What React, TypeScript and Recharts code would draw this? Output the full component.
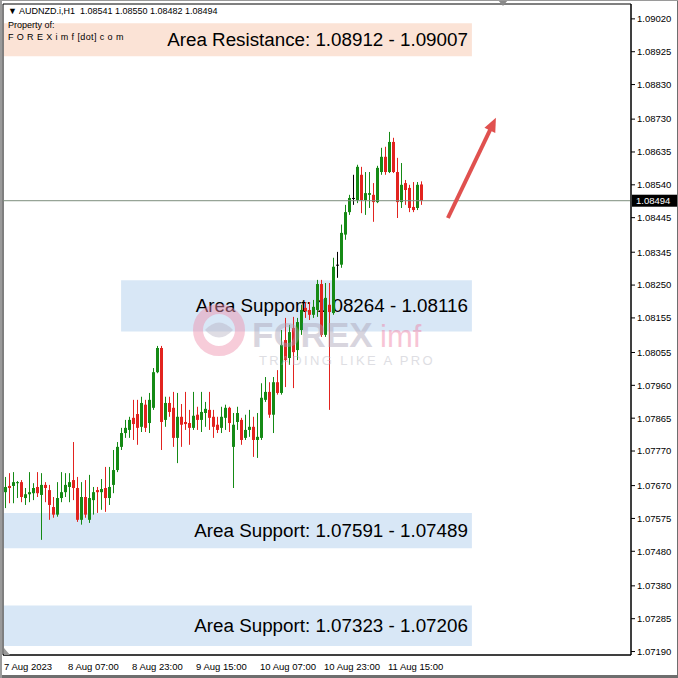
import React from 'react';
import { ComposedChart, Bar, XAxis, YAxis, ReferenceArea, ReferenceLine } from 'recharts';

// ---- Candle data (AUDNZD.i, H1, from 7 Aug 2023 15:00) ----
const opens = [
  1.07651, 1.07669, 1.07669, 1.07677, 1.07680, 1.07634, 1.07645, 1.07648, 1.07666, 1.07643,
  1.07672, 1.07657, 1.07608, 1.07586, 1.07634, 1.07651, 1.07666, 1.07686, 1.07663, 1.07571,
  1.07637, 1.07571, 1.07628, 1.07657, 1.07651, 1.07663, 1.07634, 1.07672, 1.07715, 1.07782,
  1.07822, 1.07831, 1.07866, 1.07877, 1.07840, 1.07904, 1.07851, 1.07895, 1.07998, 1.08068,
  1.07860, 1.07909, 1.07895, 1.07808, 1.07869, 1.07854, 1.07851, 1.07837, 1.07875, 1.07860,
  1.07880, 1.07889, 1.07869, 1.07846, 1.07837, 1.07866, 1.07895, 1.07782, 1.07854, 1.07860,
  1.07808, 1.07831, 1.07840, 1.07802, 1.07808, 1.07918, 1.07941, 1.07875, 1.07969, 1.07938,
  1.08091, 1.08039, 1.08126, 1.08062, 1.08120, 1.08184, 1.08178, 1.08164, 1.08178, 1.08253,
  1.08106, 1.08193, 1.08169, 1.08309, 1.08309, 1.08396, 1.08461, 1.08502, 1.08496, 1.08569,
  1.08496, 1.08511, 1.08511, 1.08490, 1.08577, 1.08621, 1.08577, 1.08664, 1.08577, 1.08490,
  1.08545, 1.08531, 1.08476, 1.08473, 1.08541,
];
const highs = [
  1.07695, 1.07706, 1.07709, 1.07683, 1.07686, 1.07663, 1.07709, 1.07677, 1.07709, 1.07706,
  1.07680, 1.07672, 1.07637, 1.07680, 1.07709, 1.07706, 1.07706, 1.07796, 1.07695, 1.07680,
  1.07686, 1.07701, 1.07666, 1.07666, 1.07689, 1.07724, 1.07724, 1.07773, 1.07796, 1.07837,
  1.07860, 1.07869, 1.07918, 1.07918, 1.07927, 1.07918, 1.07938, 1.08010, 1.08074, 1.08074,
  1.07927, 1.07927, 1.07941, 1.07938, 1.07906, 1.07941, 1.07889, 1.07941, 1.07898, 1.07941,
  1.07912, 1.07941, 1.07889, 1.07869, 1.07898, 1.07904, 1.07898, 1.07880, 1.07898, 1.07866,
  1.07875, 1.07889, 1.07869, 1.07880, 1.07966, 1.07984, 1.07969, 1.07984, 1.08004, 1.08120,
  1.08155, 1.08135, 1.08158, 1.08155, 1.08193, 1.08201, 1.08201, 1.08207, 1.08265, 1.08265,
  1.08256, 1.08256, 1.08329, 1.08346, 1.08425, 1.08482, 1.08511, 1.08569, 1.08598, 1.08592,
  1.08577, 1.08577, 1.08545, 1.08595, 1.08647, 1.08650, 1.08693, 1.08676, 1.08618, 1.08603,
  1.08554, 1.08540, 1.08548, 1.08548, 1.08550,
];
const lows = [
  1.07605, 1.07619, 1.07619, 1.07634, 1.07622, 1.07614, 1.07622, 1.07628, 1.07637, 1.07513,
  1.07622, 1.07571, 1.07577, 1.07580, 1.07622, 1.07637, 1.07622, 1.07628, 1.07565, 1.07557,
  1.07577, 1.07562, 1.07586, 1.07591, 1.07600, 1.07594, 1.07614, 1.07648, 1.07709, 1.07773,
  1.07808, 1.07808, 1.07802, 1.07788, 1.07825, 1.07825, 1.07822, 1.07889, 1.07995, 1.07773,
  1.07840, 1.07869, 1.07782, 1.07735, 1.07782, 1.07831, 1.07788, 1.07831, 1.07831, 1.07825,
  1.07840, 1.07831, 1.07808, 1.07822, 1.07822, 1.07831, 1.07825, 1.07663, 1.07831, 1.07788,
  1.07802, 1.07811, 1.07753, 1.07750, 1.07802, 1.07912, 1.07866, 1.07822, 1.07933, 1.07933,
  1.07955, 1.08019, 1.07952, 1.08033, 1.08106, 1.08155, 1.08149, 1.08155, 1.08158, 1.08100,
  1.08100, 1.07889, 1.08164, 1.08271, 1.08300, 1.08381, 1.08453, 1.08482, 1.08487, 1.08458,
  1.08453, 1.08473, 1.08433, 1.08487, 1.08569, 1.08569, 1.08574, 1.08574, 1.08444, 1.08473,
  1.08482, 1.08461, 1.08461, 1.08467, 1.08482,
];
const closes = [
  1.07666, 1.07663, 1.07680, 1.07680, 1.07637, 1.07645, 1.07651, 1.07663, 1.07648, 1.07672,
  1.07663, 1.07614, 1.07586, 1.07634, 1.07651, 1.07672, 1.07680, 1.07663, 1.07571, 1.07637,
  1.07586, 1.07634, 1.07651, 1.07651, 1.07660, 1.07634, 1.07666, 1.07715, 1.07782, 1.07822,
  1.07837, 1.07860, 1.07848, 1.07837, 1.07909, 1.07837, 1.07918, 1.07998, 1.08068, 1.07854,
  1.07909, 1.07883, 1.07808, 1.07869, 1.07846, 1.07848, 1.07837, 1.07872, 1.07860, 1.07883,
  1.07892, 1.07866, 1.07840, 1.07831, 1.07869, 1.07895, 1.07851, 1.07846, 1.07880, 1.07802,
  1.07831, 1.07840, 1.07802, 1.07811, 1.07924, 1.07941, 1.07875, 1.07969, 1.07938, 1.08077,
  1.08033, 1.08114, 1.08056, 1.08143, 1.08178, 1.08175, 1.08164, 1.08187, 1.08253, 1.08106,
  1.08213, 1.08172, 1.08303, 1.08309, 1.08401, 1.08461, 1.08502, 1.08502, 1.08592, 1.08496,
  1.08516, 1.08516, 1.08490, 1.08589, 1.08621, 1.08577, 1.08664, 1.08577, 1.08490, 1.08540,
  1.08525, 1.08473, 1.08467, 1.08540, 1.08494,
];

// ---- Axes ----
const xTickIndex = [0, 16, 32, 48, 64, 80, 96];
const xTickLabels = ['7 Aug 2023', '8 Aug 07:00', '8 Aug 23:00', '9 Aug 15:00', '10 Aug 07:00', '10 Aug 23:00', '11 Aug 15:00'];
const yTicks = [
  1.0902, 1.08925, 1.0883, 1.0873, 1.08635, 1.0854, 1.08445, 1.08345, 1.0825, 1.08155,
  1.08055, 1.0796, 1.07865, 1.0777, 1.0767, 1.07575, 1.0748, 1.0738, 1.07285, 1.0719,
];
const yDomain = [1.0718, 1.09063];
const xDomain = [-0.625, 156.375];

// ---- Zones ----
const zoneLow = [1.08912, 1.08116, 1.07489, 1.07206];
const zoneHigh = [1.09007, 1.08264, 1.07591, 1.07323];
const zoneStart = [-0.4, 28.9, -0.4, -0.4];
const zoneEnd = [116.6, 116.6, 116.6, 116.6];
const zoneLabels = [
  'Area Resistance: 1.08912 - 1.09007',
  'Area Support: 1.08264 - 1.08116',
  'Area Support: 1.07591 - 1.07489',
  'Area Support: 1.07323 - 1.07206',
];
const zoneColors = ['#fbe3d6', '#d8e7f6', '#d8e7f6', '#d8e7f6'];

const lastPrice = 1.08494;
const arrowFrom = { x: 110.6, y: 1.08444 };
const arrowTo = { x: 122.6, y: 1.08734 };

const GREEN = '#158a15';
const RED = '#e2231f';
const FONT = '"Liberation Sans", Arial, sans-serif';

const candles = opens.map((o, i) => ({
  i,
  open: o,
  high: highs[i],
  low: lows[i],
  close: closes[i],
  range: [lows[i], highs[i]],
}));

const Candle = (props: any) => {
  const { x, y, width, height, payload } = props;
  if (!payload || x == null) return null;
  const { open, close, high, low } = payload;
  const top = Math.min(y, y + height);
  const h = Math.abs(height);
  const cx = Math.round(x + width / 2) + 0.5;
  const py = (v: number) => (high === low ? top : top + ((high - v) / (high - low)) * h);
  const yO = py(open);
  const yC = py(close);
  const color = close > open ? GREEN : close < open ? RED : '#000';
  const bt = Math.min(yO, yC);
  const bh = Math.max(1, Math.abs(yC - yO));
  return (
    <g>
      <line x1={cx} x2={cx} y1={top} y2={top + h} stroke={color} strokeWidth={1} />
      <rect x={cx - 1.5} y={bt} width={3} height={bh} fill={color} />
    </g>
  );
};

const XTick = (props: any) => {
  const { x, y, payload } = props;
  const idx = xTickIndex.indexOf(payload.value);
  return (
    <text x={x - 1.5} y={y + 13} textAnchor="start" fontSize={9.5} fontFamily={FONT} fill="#000">
      {xTickLabels[idx]}
    </text>
  );
};

const makeZoneLabel = (text: string) => (props: any) => {
  const vb = props.viewBox || {};
  return (
    <text
      x={vb.x + vb.width - 4}
      y={vb.y + vb.height / 2}
      textAnchor="end"
      dominantBaseline="central"
      fontSize={18.8}
      fontFamily={FONT}
      fill="#000"
    >
      {text}
    </text>
  );
};

const PriceLabel = (props: any) => {
  const vb = props.viewBox || {};
  const x = vb.x + vb.width + 1;
  const y = vb.y;
  return (
    <g>
      <rect x={x} y={y - 6} width={45} height={12} fill="#000" />
      <text x={x + 4} y={y} dominantBaseline="central" fontSize={9.5} fontFamily={FONT} fill="#fff">
        {lastPrice.toFixed(5)}
      </text>
    </g>
  );
};

const ArrowShape = (props: any) => {
  const { x1, y1, x2, y2 } = props;
  if ([x1, y1, x2, y2].some((v) => v == null || isNaN(v))) return null;
  const dx = x2 - x1;
  const dy = y2 - y1;
  const len = Math.sqrt(dx * dx + dy * dy);
  const ux = dx / len;
  const uy = dy / len;
  const headLen = 14;
  const headW = 6;
  const bx = x2 - ux * headLen;
  const by = y2 - uy * headLen;
  const px = -uy;
  const py = ux;
  return (
    <g>
      <line x1={x1} y1={y1} x2={bx + ux * 2} y2={by + uy * 2} stroke="#e0514f" strokeWidth={4} />
      <polygon
        points={`${x2},${y2} ${bx + px * headW},${by + py * headW} ${bx - px * headW},${by - py * headW}`}
        fill="#e0514f"
      />
    </g>
  );
};

export default function App() {
  return (
    <div style={{ position: 'absolute', left: 0, top: 0, width: 678, height: 678, background: '#fff', overflow: 'hidden' }}>
      <ComposedChart
        width={678}
        height={678}
        data={candles}
        margin={{ top: 4, right: 0, bottom: 0, left: 3 }}
      >
        <XAxis
          type="number"
          dataKey="i"
          domain={xDomain}
          allowDataOverflow
          ticks={xTickIndex}
          tick={<XTick />}
          tickLine={false}
          tickSize={0}
          height={23}
          axisLine={{ stroke: '#000' }}
        />
        <YAxis
          type="number"
          orientation="right"
          domain={yDomain}
          allowDataOverflow
          ticks={yTicks}
          interval={0}
          width={47}
          tickSize={4}
          tickLine={{ stroke: '#000' }}
          axisLine={{ stroke: '#000' }}
          tickFormatter={(v: number) => v.toFixed(5)}
          tick={{ fontSize: 9.5, fontFamily: FONT, fill: '#000' }}
        />
        {zoneLabels.map((t, k) => (
          <ReferenceArea
            key={'z' + k}
            x1={zoneStart[k]}
            x2={zoneEnd[k]}
            y1={zoneLow[k]}
            y2={zoneHigh[k]}
            fill={zoneColors[k]}
            fillOpacity={1}
            stroke="none"
            ifOverflow="visible"
          />
        ))}
        <ReferenceLine y={lastPrice} stroke="#7d8d7d" strokeWidth={1} label={PriceLabel} />
        <Bar dataKey="range" barSize={3} shape={Candle} isAnimationActive={false} />
        {zoneLabels.map((t, k) => (
          <ReferenceArea
            key={'l' + k}
            x1={zoneStart[k]}
            x2={zoneEnd[k]}
            y1={zoneLow[k]}
            y2={zoneHigh[k]}
            fill="none"
            stroke="none"
            ifOverflow="visible"
            label={makeZoneLabel(t)}
          />
        ))}
        <ReferenceLine segment={[arrowFrom, arrowTo]} shape={ArrowShape} ifOverflow="visible" />
        <ReferenceArea
          x1={xDomain[0]}
          x2={xDomain[1]}
          y1={yDomain[0]}
          y2={yDomain[1]}
          fill="none"
          stroke="#000"
          strokeWidth={1}
          ifOverflow="visible"
        />
      </ComposedChart>

      {/* watermark */}
      <svg width={678} height={678} style={{ position: 'absolute', left: 0, top: 0, pointerEvents: 'none' }}>
        <g opacity={0.45}>
          <circle cx={219} cy={330} r={21} fill="none" stroke="#ef8fad" strokeWidth={10} />
          <path d="M205 330 Q219 315 233 330 Q219 345 205 330 Z" fill="#b9b4c4" />
          <text x={252} y={347} fontSize={35} fontWeight="bold" fontFamily={FONT} fill="#aaa3b8">FOREX</text>
          <text x={380} y={347} fontSize={31} fontFamily={FONT} fill="#ef7ea3">imf</text>
          <text x={259} y={365} fontSize={13} letterSpacing={2.4} fontFamily={FONT} fill="#b8b8c2">TRADING LIKE A PRO</text>
        </g>
        <polygon points="498,0 508,0 503,6" fill="#8a8a8a" />
        <polygon points="4,648 4,655 10,655" fill="#9a9a9a" />
      </svg>

      {/* header texts */}
      <div style={{ position: 'absolute', left: 8, top: 6, fontSize: 9, fontFamily: FONT, color: '#000', whiteSpace: 'pre', lineHeight: '11px' }}>
        {'\u25BC AUDNZD.i,H1  1.08541 1.08550 1.08482 1.08494'}
      </div>
      <div style={{ position: 'absolute', left: 8, top: 20, fontSize: 9, fontFamily: FONT, color: '#000', whiteSpace: 'pre', lineHeight: '11px' }}>
        Property of:
      </div>
      <div style={{ position: 'absolute', left: 8, top: 32, fontSize: 9, fontFamily: FONT, color: '#000', whiteSpace: 'pre', lineHeight: '11px', letterSpacing: 0.4 }}>
        F O R E X i m f [dot] c o m
      </div>

      {/* window frame */}
      <div
        style={{
          position: 'absolute',
          left: 0,
          top: 0,
          width: 678,
          height: 678,
          boxSizing: 'border-box',
          pointerEvents: 'none',
          boxShadow: 'inset 2px 1px 0 #9a9a9a, inset -1px -3px 0 #6e6e6e',
        }}
      />
    </div>
  );
}
